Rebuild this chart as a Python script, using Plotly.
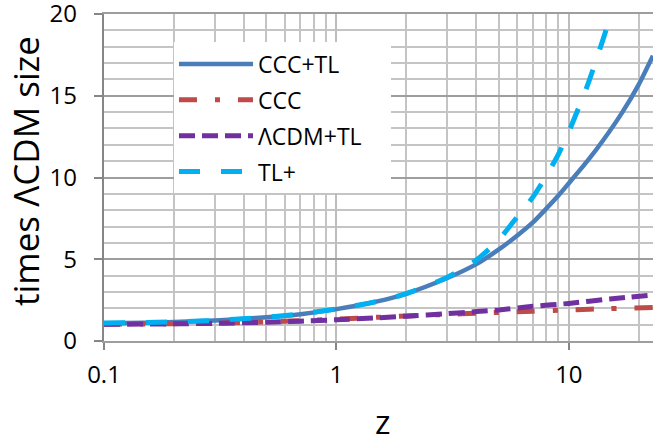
import plotly.graph_objects as go

# Redshift samples and size ratios (relative to the ΛCDM size) for each model
z_ccc_tl = [0.1, 0.15, 0.2, 0.3, 0.4, 0.5, 0.7, 1, 1.5, 2, 3, 4, 5, 6, 7, 8, 9, 10, 12, 14, 17, 20, 23]
ccc_tl = [1.08, 1.12, 1.16, 1.25, 1.36, 1.45, 1.64, 1.95, 2.42, 2.9, 3.85, 4.7, 5.6, 6.45, 7.25, 8.1, 8.88, 9.65, 11.0, 12.25, 14.0, 15.7, 17.45]

z_ccc = [0.1, 0.2, 0.3, 0.5, 0.7, 1, 1.5, 2, 3, 4, 5, 7, 10, 15, 23]
ccc = [1.03, 1.06, 1.1, 1.17, 1.24, 1.33, 1.45, 1.53, 1.63, 1.7, 1.75, 1.82, 1.9, 1.98, 2.05]

z_lcdm_tl = [0.1, 0.2, 0.3, 0.5, 0.7, 1, 1.5, 2, 3, 4, 5, 7, 10, 15, 23]
lcdm_tl = [1.02, 1.05, 1.08, 1.15, 1.21, 1.3, 1.42, 1.52, 1.67, 1.8, 1.9, 2.12, 2.3, 2.57, 2.82]

z_tl_plus = [0.1, 0.2, 0.3, 0.5, 0.7, 1, 1.5, 2, 3, 4, 5, 6, 7, 8, 9, 10, 12, 14, 16]
tl_plus = [1.1, 1.17, 1.26, 1.46, 1.65, 1.96, 2.42, 2.9, 3.9, 4.95, 6.2, 7.6, 8.8, 10.1, 11.4, 12.8, 15.6, 18.4, 21.0]

x_tickvals = [0.1, 1, 10]
x_ticktext = ["0.1", "1", "10"]
y_tickvals = [0, 5, 10, 15, 20]
y_ticktext = ["0", "5", "10", "15", "20"]

FONT = "Open Sans, Liberation Sans, sans-serif"
NBSP = "\u00a0"

series = [
    ("CCC+TL", z_ccc_tl, ccc_tl, "#4a7ebb", "solid", 4.5),
    ("CCC", z_ccc, ccc, "#be4b48", "18px,18px,5px,18px", 5),
    ("\u039bCDM+TL" + NBSP * 4, z_lcdm_tl, lcdm_tl, "#7030a0", "16px,7px", 5),
    ("TL+", z_tl_plus, tl_plus, "#00b0f0", "21px,21px", 5),
]

fig = go.Figure()
for name, xs, ys, color, dash, width in series:
    fig.add_trace(go.Scatter(
        x=xs, y=ys, mode="lines", name=name, legendgroup=name,
        line=dict(color=color, dash=dash, width=width, shape="spline", smoothing=0.6),
    ))

fig.update_layout(
    width=653, height=441,
    margin=dict(l=104, r=0, t=14, b=100),
    paper_bgcolor="white", plot_bgcolor="white",
    font=dict(family=FONT, size=22, color="black"),
    showlegend=True,
    legend=dict(
        x=0.1275, y=0.913, xanchor="left", yanchor="top",
        bgcolor="white", borderwidth=0,
        font=dict(family=FONT, size=23, color="black"),
        itemwidth=74, tracegroupgap=3,
    ),
    annotations=[
        dict(
            text="times \u039bCDM size", textangle=-90,
            xref="paper", yref="paper", x=-0.142, y=0.52,
            xanchor="center", yanchor="middle", showarrow=False,
            font=dict(family=FONT, size=35, color="black"),
        ),
        dict(
            text="z", xref="paper", yref="paper", x=0.508, y=-0.246,
            xanchor="center", yanchor="middle", showarrow=False,
            font=dict(family=FONT, size=33, color="black"),
        ),
    ],
)

fig.update_xaxes(
    type="log", range=[-1, 1.362], automargin=False,
    tickvals=x_tickvals, ticktext=x_ticktext,
    ticks="outside", ticklen=7, tickwidth=1.5, tickcolor="#868686",
    showline=True, mirror=True, linecolor="#9e9e9e", linewidth=1.5,
    showgrid=True, gridcolor="#bdbdbd", gridwidth=1.5,
    minor=dict(dtick="D1", showgrid=True, gridcolor="#c4c4c4", gridwidth=1.5, ticks=""),
    tickfont=dict(size=24), ticklabelstandoff=4,
    zeroline=False,
)
fig.update_yaxes(
    range=[0, 20], automargin=False, tickvals=y_tickvals,
    ticktext=[t + NBSP * 2 for t in y_ticktext],
    ticks="outside", ticklen=8, tickwidth=1.5, tickcolor="#868686",
    showline=True, linecolor="#868686", linewidth=1.5,
    showgrid=True, gridcolor="#9e9e9e", gridwidth=1.5,
    minor=dict(dtick=1, showgrid=True, gridcolor="#c4c4c4", gridwidth=1.5, ticks=""),
    tickfont=dict(size=24), ticklabeloverflow="allow",
    zeroline=False,
)

fig.write_html("out.html")
